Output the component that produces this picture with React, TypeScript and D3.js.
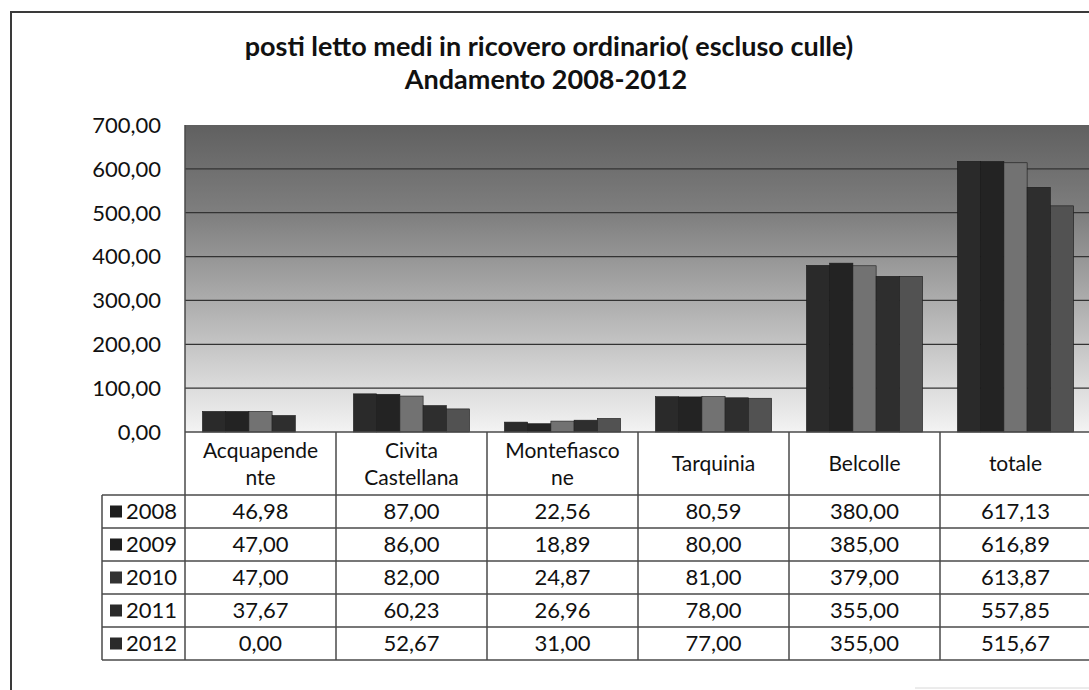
import React, { useRef, useEffect } from 'react';
import * as d3 from 'd3';

const categories = ['Acquapendente', 'Civita Castellana', 'Montefiascone', 'Tarquinia', 'Belcolle', 'totale'];
// header text as it wraps in the data table
const headerLines = [['Acquapende', 'nte'], ['Civita', 'Castellana'], ['Montefiasco', 'ne'], ['Tarquinia'], ['Belcolle'], ['totale']];
const years = ['2008', '2009', '2010', '2011', '2012'];

const v2008 = [46.98, 87.0, 22.56, 80.59, 380.0, 617.13];
const v2009 = [47.0, 86.0, 18.89, 80.0, 385.0, 616.89];
const v2010 = [47.0, 82.0, 24.87, 81.0, 379.0, 613.87];
const v2011 = [37.67, 60.23, 26.96, 78.0, 355.0, 557.85];
const v2012 = [0.0, 52.67, 31.0, 77.0, 355.0, 515.67];
const seriesValues = [v2008, v2009, v2010, v2011, v2012];

const yTicks = [0, 100, 200, 300, 400, 500, 600, 700];
const barColors = ['#2a2a2a', '#232323', '#727272', '#2e2e2e', '#525252'];
const swatchColors = ['#1e1e1e', '#1e1e1e', '#333333', '#2a2a2a', '#2a2a2a'];

const W = 1089;
const H = 690;
const FONT = 'Lato, "Open Sans", sans-serif';

const itFormat = d3.formatLocale({ decimal: ',', thousands: '.', grouping: [3], currency: ['', '€'] }).format('.2f');

export default function App() {
  const svgRef = useRef<SVGSVGElement>(null);

  useEffect(() => {
    if (!svgRef.current) return;
    const svg = d3.select(svgRef.current);
    svg.selectAll('*').remove();

    const plot = { left: 185, right: 1091, top: 125, bottom: 432 };
    const tableLeft = 102;
    const headerBottom = 495;
    const rowH = 33;

    const x0 = d3.scaleBand().domain(categories).range([plot.left, plot.right]).paddingInner(0).paddingOuter(0);
    // Excel gap width 150% -> bars take 5/(5+1.5) of the category
    const barW = x0.bandwidth() / (years.length + 1.5);
    const y = d3.scaleLinear().domain([0, 700]).range([plot.bottom, plot.top]);

    // background gradient of the plot area
    const defs = svg.append('defs');
    const grad = defs.append('linearGradient').attr('id', 'bg').attr('x1', 0).attr('y1', 0).attr('x2', 0).attr('y2', 1);
    [[0, '#606060'], [0.3, '#808080'], [0.6, '#b1b1b1'], [0.85, '#dbdbdb'], [1, '#f3f3f3']].forEach(([o, c]) => {
      grad.append('stop').attr('offset', o as number).attr('stop-color', c as string);
    });

    svg.append('rect').attr('width', W).attr('height', H).attr('fill', '#ffffff');

    // outer frame
    svg.append('path')
      .attr('d', `M11,${H} L11,12 L${W},12`)
      .attr('fill', 'none')
      .attr('stroke', '#3a3a3a')
      .attr('stroke-width', 2);
    svg.append('line')
      .attr('x1', 915).attr('x2', W).attr('y1', 688).attr('y2', 688)
      .attr('stroke', '#d8d8d8').attr('stroke-width', 1);

    // title
    const title = svg.append('text')
      .attr('text-anchor', 'middle')
      .attr('font-family', FONT)
      .attr('font-weight', 'bold')
      .attr('font-size', '27px')
      .attr('fill', '#111');
    title.append('tspan').attr('x', 549).attr('y', 56).text('posti letto medi in ricovero ordinario( escluso culle)');
    title.append('tspan').attr('x', 546).attr('y', 89).text('Andamento 2008-2012');

    // plot area
    svg.append('rect')
      .attr('x', plot.left)
      .attr('y', plot.top)
      .attr('width', plot.right - plot.left)
      .attr('height', plot.bottom - plot.top)
      .attr('fill', 'url(#bg)');

    // gridlines
    svg.append('g')
      .selectAll('line')
      .data(yTicks.filter(d => d > 0 && d < 700))
      .join('line')
      .attr('x1', plot.left)
      .attr('x2', plot.right)
      .attr('y1', d => y(d))
      .attr('y2', d => y(d))
      .attr('stroke', '#333')
      .attr('stroke-width', 1.2);

    // y tick labels
    svg.append('g')
      .selectAll('text')
      .data(yTicks)
      .join('text')
      .attr('x', 161)
      .attr('y', d => y(d))
      .attr('dy', '0.36em')
      .attr('text-anchor', 'end')
      .attr('font-family', FONT)
      .attr('font-size', '22px')
      .attr('fill', '#111')
      .text(d => itFormat(d));

    // bars
    const barsG = svg.append('g');
    categories.forEach((cat, ci) => {
      const start = (x0(cat) as number) + barW * 0.75;
      seriesValues.forEach((vals, si) => {
        const v = vals[ci];
        if (v <= 0) return;
        barsG.append('rect')
          .attr('x', start + si * barW)
          .attr('y', y(v))
          .attr('width', barW)
          .attr('height', y(0) - y(v))
          .attr('fill', barColors[si])
          .attr('stroke', '#1a1a1a')
          .attr('stroke-width', 0.6);
      });
    });

    // data table
    const tableG = svg.append('g').attr('stroke', '#4a4a4a').attr('stroke-width', 1.5);
    const tableBottom = headerBottom + rowH * years.length;
    tableG.append('line').attr('x1', plot.left).attr('x2', plot.left).attr('y1', plot.top).attr('y2', tableBottom);
    tableG.append('line').attr('x1', plot.left).attr('x2', W).attr('y1', plot.bottom).attr('y2', plot.bottom);
    tableG.append('line').attr('x1', tableLeft).attr('x2', tableLeft).attr('y1', headerBottom).attr('y2', tableBottom);
    d3.range(years.length + 1).forEach(i => {
      const yy = headerBottom + i * rowH;
      tableG.append('line').attr('x1', tableLeft).attr('x2', W).attr('y1', yy).attr('y2', yy);
    });
    categories.forEach(cat => {
      const xx = (x0(cat) as number) + x0.bandwidth();
      tableG.append('line').attr('x1', xx).attr('x2', xx).attr('y1', plot.bottom).attr('y2', tableBottom);
    });

    // header labels
    categories.forEach((cat, ci) => {
      const cx = (x0(cat) as number) + x0.bandwidth() / 2;
      const lines = headerLines[ci];
      lines.forEach((ln, li) => {
        const cy = lines.length === 1 ? 463 : 450 + li * 27;
        svg.append('text')
          .attr('x', cx)
          .attr('y', cy)
          .attr('dy', '0.36em')
          .attr('text-anchor', 'middle')
          .attr('font-family', FONT)
          .attr('font-size', '21px')
          .attr('fill', '#111')
          .text(ln);
      });
    });

    // rows: legend keys and values
    years.forEach((yr, si) => {
      const cy = headerBottom + si * rowH + rowH / 2;
      svg.append('rect')
        .attr('x', 110)
        .attr('y', cy - 6)
        .attr('width', 12)
        .attr('height', 12)
        .attr('fill', swatchColors[si]);
      svg.append('text')
        .attr('x', 126)
        .attr('y', cy)
        .attr('dy', '0.36em')
        .attr('font-family', FONT)
        .attr('font-size', '22px')
        .attr('fill', '#111')
        .text(yr);
      categories.forEach((cat, ci) => {
        svg.append('text')
          .attr('x', (x0(cat) as number) + x0.bandwidth() / 2)
          .attr('y', cy)
          .attr('dy', '0.36em')
          .attr('text-anchor', 'middle')
          .attr('font-family', FONT)
          .attr('font-size', '22px')
          .attr('fill', '#111')
          .text(itFormat(seriesValues[si][ci]));
      });
    });
  }, []);

  return (
    <div style={{ position: 'absolute', left: 0, top: 0 }}>
      <svg ref={svgRef} width={W} height={H} style={{ display: 'block' }} />
    </div>
  );
}
